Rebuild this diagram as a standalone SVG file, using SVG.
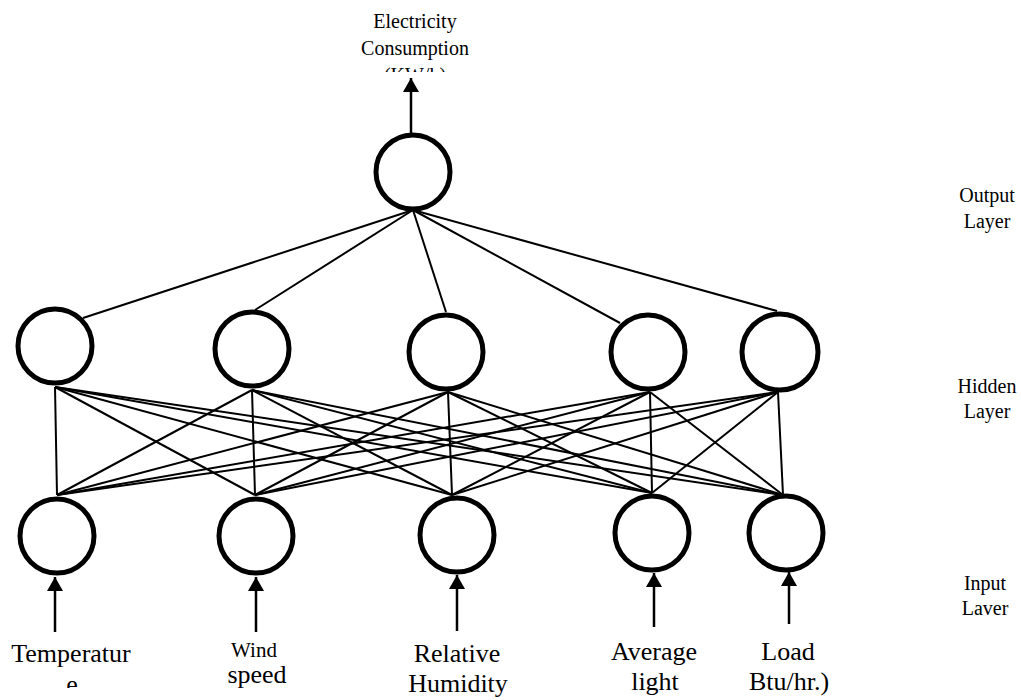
<svg xmlns="http://www.w3.org/2000/svg" width="1021" height="700" viewBox="0 0 1021 700">
<style>
.n{fill:#fff;stroke:#000;stroke-width:5}
.c line{stroke:#000;stroke-width:2}
.a{stroke:#000;stroke-width:2.5;fill:none}
.t{font-family:"Liberation Serif","Times New Roman",serif;fill:#000;text-anchor:middle}
</style>
<defs>
<marker id="ah" markerUnits="userSpaceOnUse" markerWidth="15" markerHeight="16" refX="14" refY="8" orient="auto" viewBox="0 0 15 16">
<path d="M0,0 L14,8 L0,16 Z" fill="#000"/>
</marker>
<clipPath id="clipBottom"><rect x="0" y="0" width="1021" height="688"/></clipPath>
<clipPath id="clipTop"><rect x="0" y="0" width="1021" height="72"/></clipPath>
</defs>
<rect width="1021" height="700" fill="#fff"/>
<g id="connectors" class="c">
<line x1="413" y1="210" x2="83" y2="318"/>
<line x1="413" y1="210" x2="255" y2="310"/>
<line x1="413" y1="210" x2="446" y2="312"/>
<line x1="413" y1="210" x2="620" y2="323"/>
<line x1="413" y1="210" x2="777" y2="311"/>
<line x1="55" y1="387" x2="57" y2="495"/>
<line x1="55" y1="387" x2="255" y2="495"/>
<line x1="55" y1="387" x2="452" y2="495"/>
<line x1="55" y1="387" x2="652" y2="493"/>
<line x1="55" y1="387" x2="783" y2="495"/>
<line x1="252" y1="390" x2="57" y2="495"/>
<line x1="252" y1="390" x2="255" y2="495"/>
<line x1="252" y1="390" x2="452" y2="495"/>
<line x1="252" y1="390" x2="652" y2="493"/>
<line x1="252" y1="390" x2="783" y2="495"/>
<line x1="448" y1="392" x2="57" y2="495"/>
<line x1="448" y1="392" x2="255" y2="495"/>
<line x1="448" y1="392" x2="452" y2="495"/>
<line x1="448" y1="392" x2="652" y2="493"/>
<line x1="448" y1="392" x2="783" y2="495"/>
<line x1="650" y1="392" x2="57" y2="495"/>
<line x1="650" y1="392" x2="255" y2="495"/>
<line x1="650" y1="392" x2="452" y2="495"/>
<line x1="650" y1="392" x2="652" y2="493"/>
<line x1="650" y1="392" x2="783" y2="495"/>
<line x1="778" y1="392" x2="57" y2="495"/>
<line x1="778" y1="392" x2="255" y2="495"/>
<line x1="778" y1="392" x2="452" y2="495"/>
<line x1="778" y1="392" x2="652" y2="493"/>
<line x1="778" y1="392" x2="783" y2="495"/>
<path class="a" d="M411,133 L411,78" marker-end="url(#ah)"/>
<path class="a" d="M55,632 L55,577" marker-end="url(#ah)"/>
<path class="a" d="M256,632 L256,577" marker-end="url(#ah)"/>
<path class="a" d="M457,631 L457,575" marker-end="url(#ah)"/>
<path class="a" d="M654,627 L654,573" marker-end="url(#ah)"/>
<path class="a" d="M789,624 L789,572" marker-end="url(#ah)"/>
</g>
<g id="output-node"><circle class="n" cx="413" cy="172" r="37"/></g>
<g id="hidden-1"><circle class="n" cx="55" cy="346" r="37"/></g>
<g id="hidden-2"><circle class="n" cx="252" cy="349" r="37"/></g>
<g id="hidden-3"><circle class="n" cx="446" cy="352" r="37"/></g>
<g id="hidden-4"><circle class="n" cx="648" cy="352" r="37"/></g>
<g id="hidden-5"><circle class="n" cx="780" cy="352" r="38"/></g>
<g id="input-1"><circle class="n" cx="57" cy="536" r="37"/></g>
<g id="input-2"><circle class="n" cx="256" cy="536" r="37"/></g>
<g id="input-3"><circle class="n" cx="457" cy="535" r="37"/></g>
<g id="input-4"><circle class="n" cx="652" cy="533" r="37"/></g>
<g id="input-5"><circle class="n" cx="786" cy="533" r="37"/></g>
<g id="label-output-value" class="t" font-size="20">
<text x="415" y="28">Electricity</text>
<text x="415" y="55">Consumption</text>
<text x="415" y="82" clip-path="url(#clipTop)">(KW/h)</text>
</g>
<g id="label-temperature" class="t" font-size="26">
<text x="71" y="662">Temperatur</text>
<text x="72" y="693" clip-path="url(#clipBottom)">e</text>
</g>
<g id="label-wind" class="t">
<text x="254" y="657" font-size="21">Wind</text>
<text x="257" y="683" font-size="26">speed</text>
</g>
<g id="label-humidity" class="t" font-size="26">
<text x="457" y="662">Relative</text>
<text x="458" y="692">Humidity</text>
</g>
<g id="label-light" class="t" font-size="26">
<text x="654" y="660">Average</text>
<text x="655" y="690">light</text>
</g>
<g id="label-load" class="t" font-size="26">
<text x="788" y="660">Load</text>
<text x="789" y="690">Btu/hr.)</text>
</g>
<g id="label-output-layer" class="t" font-size="20">
<text x="987" y="202">Output</text>
<text x="987" y="228">Layer</text>
</g>
<g id="label-hidden-layer" class="t" font-size="20">
<text x="987" y="393">Hidden</text>
<text x="987" y="418">Layer</text>
</g>
<g id="label-input-layer" class="t" font-size="20">
<text x="985" y="590">Input</text>
<text x="985" y="615">Laver</text>
</g>
</svg>
